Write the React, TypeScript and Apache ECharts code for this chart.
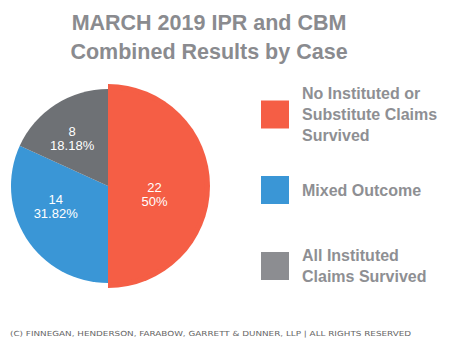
import React, { useEffect, useRef } from "react";
import * as echarts from "echarts";

const categories = [
  "No Instituted or\nSubstitute Claims\nSurvived",
  "Mixed Outcome",
  "All Instituted\nClaims Survived",
];
const values = [22, 14, 8];
const colors = ["#F55E45", "#3A96D6", "#6E7175"];
const legendColors = ["#F55E45", "#3A96D6", "#8C8D91"];
const titleText = "MARCH 2019 IPR and CBM\nCombined Results by Case";
const footerText =
  "(C) FINNEGAN, HENDERSON, FARABOW, GARRETT & DUNNER, LLP | ALL RIGHTS RESERVED";
const labelOffsets = [
  [-5, 8],
  [-9, -7],
  [-8, -4],
];

export default function App() {
  const ref = useRef<HTMLDivElement>(null);
  useEffect(() => {
    if (!ref.current) return;
    const chart = echarts.init(ref.current, null, { renderer: "svg" });
    const legendTops = [83, 176, 245];
    chart.setOption({
      animation: false,
      backgroundColor: "#ffffff",
      legend: categories.map((c, i) => ({
        data: [{ name: c, itemStyle: { color: legendColors[i] } }],
        left: 261,
        top: legendTops[i],
        padding: 0,
        orient: "vertical",
        icon: "rect",
        itemWidth: 28,
        itemHeight: 28,
        selectedMode: false,
        textStyle: {
          fontFamily: "Liberation Sans",
          fontWeight: "bold",
          fontSize: 16,
          lineHeight: 21,
          color: "#8E8F93",
          padding: [0, 0, 0, 8],
        },
      })),
      graphic: [
        {
          type: "text",
          x: 209,
          y: 8,
          style: {
            text: titleText,
            align: "center",
            fontFamily: "Liberation Sans",
            fontWeight: "bold",
            fontSize: 21.5,
            lineHeight: 29,
            fill: "#8A8B8F",
          },
        },
        {
          type: "text",
          x: 10,
          y: 330,
          scaleX: 1.26,
          style: {
            text: footerText,
            fontFamily: "DejaVu Sans",
            fontSize: 7,
            fill: "#666666",
          },
        },
      ],
      series: [
        {
          type: "pie",
          center: [108, 186],
          radius: [0, 97],
          startAngle: 90,
          clockwise: true,
          z: 3,
          itemStyle: { borderWidth: 0 },
          label: {
            position: "inside",
            formatter: "{c}\n{d}%",
            color: "#ffffff",
            fontFamily: "Liberation Sans",
            fontSize: 13,
            lineHeight: 14,
          },
          labelLine: { show: false },
          data: values.map((v, i) => ({
            name: categories[i],
            value: v,
            itemStyle: { color: colors[i] },
            label: { offset: labelOffsets[i] },
          })),
        },
        {
          type: "pie",
          center: [108, 186],
          radius: [0, 102],
          startAngle: 90,
          clockwise: true,
          silent: true,
          z: 1,
          label: { show: false },
          labelLine: { show: false },
          itemStyle: { borderWidth: 0 },
          data: values.map((v, i) => ({
            name: categories[i],
            value: v,
            itemStyle: { color: i === 0 ? colors[0] : "rgba(0,0,0,0)" },
          })),
        },
      ],
    });
    return () => chart.dispose();
  }, []);
  return <div ref={ref} style={{ width: 455, height: 353, margin: -8 }} />;
}
